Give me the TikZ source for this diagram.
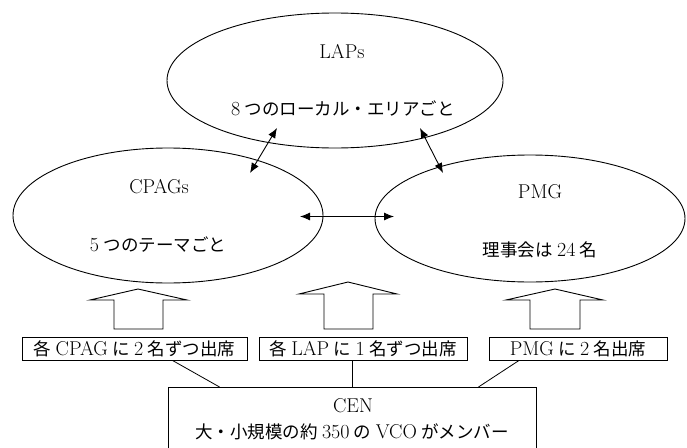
\documentclass[tikz,border=0pt]{standalone}
\usepackage{fontspec}
\newfontfamily\jp{Noto Sans CJK JP}[Scale=0.875]
\usetikzlibrary{arrows.meta}
\newcommand{\js}{\hspace{0.22em}}
\begin{document}
\begin{tikzpicture}[x=1pt,y=-1pt,
  every node/.style={font=\fontsize{20}{23}\selectfont, inner sep=0pt},
  ell/.style={draw, line width=0.9pt},
  lbl/.style={draw, line width=0.9pt, minimum height=23pt},
  conn/.style={line width=0.8pt},
  biarrow/.style={line width=0.9pt, {Latex[length=10pt,width=8pt]}-{Latex[length=10pt,width=8pt]}},
  blockarrow/.style={draw, line width=0.9pt, fill=white}]
\useasboundingbox (0,0) rectangle (687,447);

% ellipses
\draw[ell] (335,80.5) ellipse [x radius=168, y radius=67.5];
\draw[ell] (168,215.5) ellipse [x radius=155, y radius=67.5];
\draw[ell] (530,218.5) ellipse [x radius=155, y radius=63.5];

\node (laps) at (342,52) {LAPs};
\node (lapsub) at (343,108) {8\js{\jp つのローカル・エリアごと}};
\node (cpags) at (159,187) {CPAGs};
\node (cpagsub) at (158,245) {5\js{\jp つのテーマごと}};
\node (pmg) at (540,192) {PMG};
\node (pmgsub) at (540,250) {{\jp 理事会は}\js 24\js{\jp 名}};

% connectors between ellipses
\coordinate (cl1) at (250,173);
\coordinate (cl2) at (277,128);
\coordinate (pl1) at (443,173);
\coordinate (pl2) at (420,128);
\coordinate (cp1) at (300,216.5);
\coordinate (cp2) at (394,216.5);
\draw[biarrow] (cl1) -- (cl2);
\draw[biarrow] (pl1) -- (pl2);
\draw[biarrow] (cp1) -- (cp2);

% block arrows
\draw[blockarrow] (138,289) -- (187,300) -- (163,300) -- (163,329) -- (114,329) -- (114,300) -- (90,300) -- cycle;
\draw[blockarrow] (348,282) -- (397,294) -- (373,294) -- (373,329) -- (324,329) -- (324,294) -- (299,294) -- cycle;
\draw[blockarrow] (555,289) -- (603,300) -- (580,300) -- (580,329) -- (530,329) -- (530,300) -- (506,300) -- cycle;

% label boxes
\node[lbl, minimum width=225pt] (b1) at (134.5,348.5) {{\jp 各}\js CPAG\js{\jp に}\js 2\js{\jp 名ずつ出席}};
\node[lbl, minimum width=208pt] (b2) at (363,348.5) {{\jp 各}\js LAP\js{\jp に}\js 1\js{\jp 名ずつ出席}};
\node[lbl, minimum width=178pt] (b3) at (578,348.5) {PMG\js{\jp に}\js 2\js{\jp 名出席}};

% CEN box
\node[draw, line width=0.9pt, minimum width=368pt, minimum height=80pt, anchor=north] (cen) at (352,387) {};
\node (centitle) at (353,406) {CEN};
\node (censub) at (352,432) {{\jp 大・小規模の約}\js 350\js{\jp の}\js VCO\js{\jp がメンバー}};

\draw[conn] ([xshift=38pt]b1.south) -- ([xshift=52pt]cen.north west);
\draw[conn] (cen.north) -- (cen.north |- b2.south);
\draw[conn] ([xshift=-59pt]b3.south) -- ([xshift=-58pt]cen.north east);
\end{tikzpicture}
\end{document}
